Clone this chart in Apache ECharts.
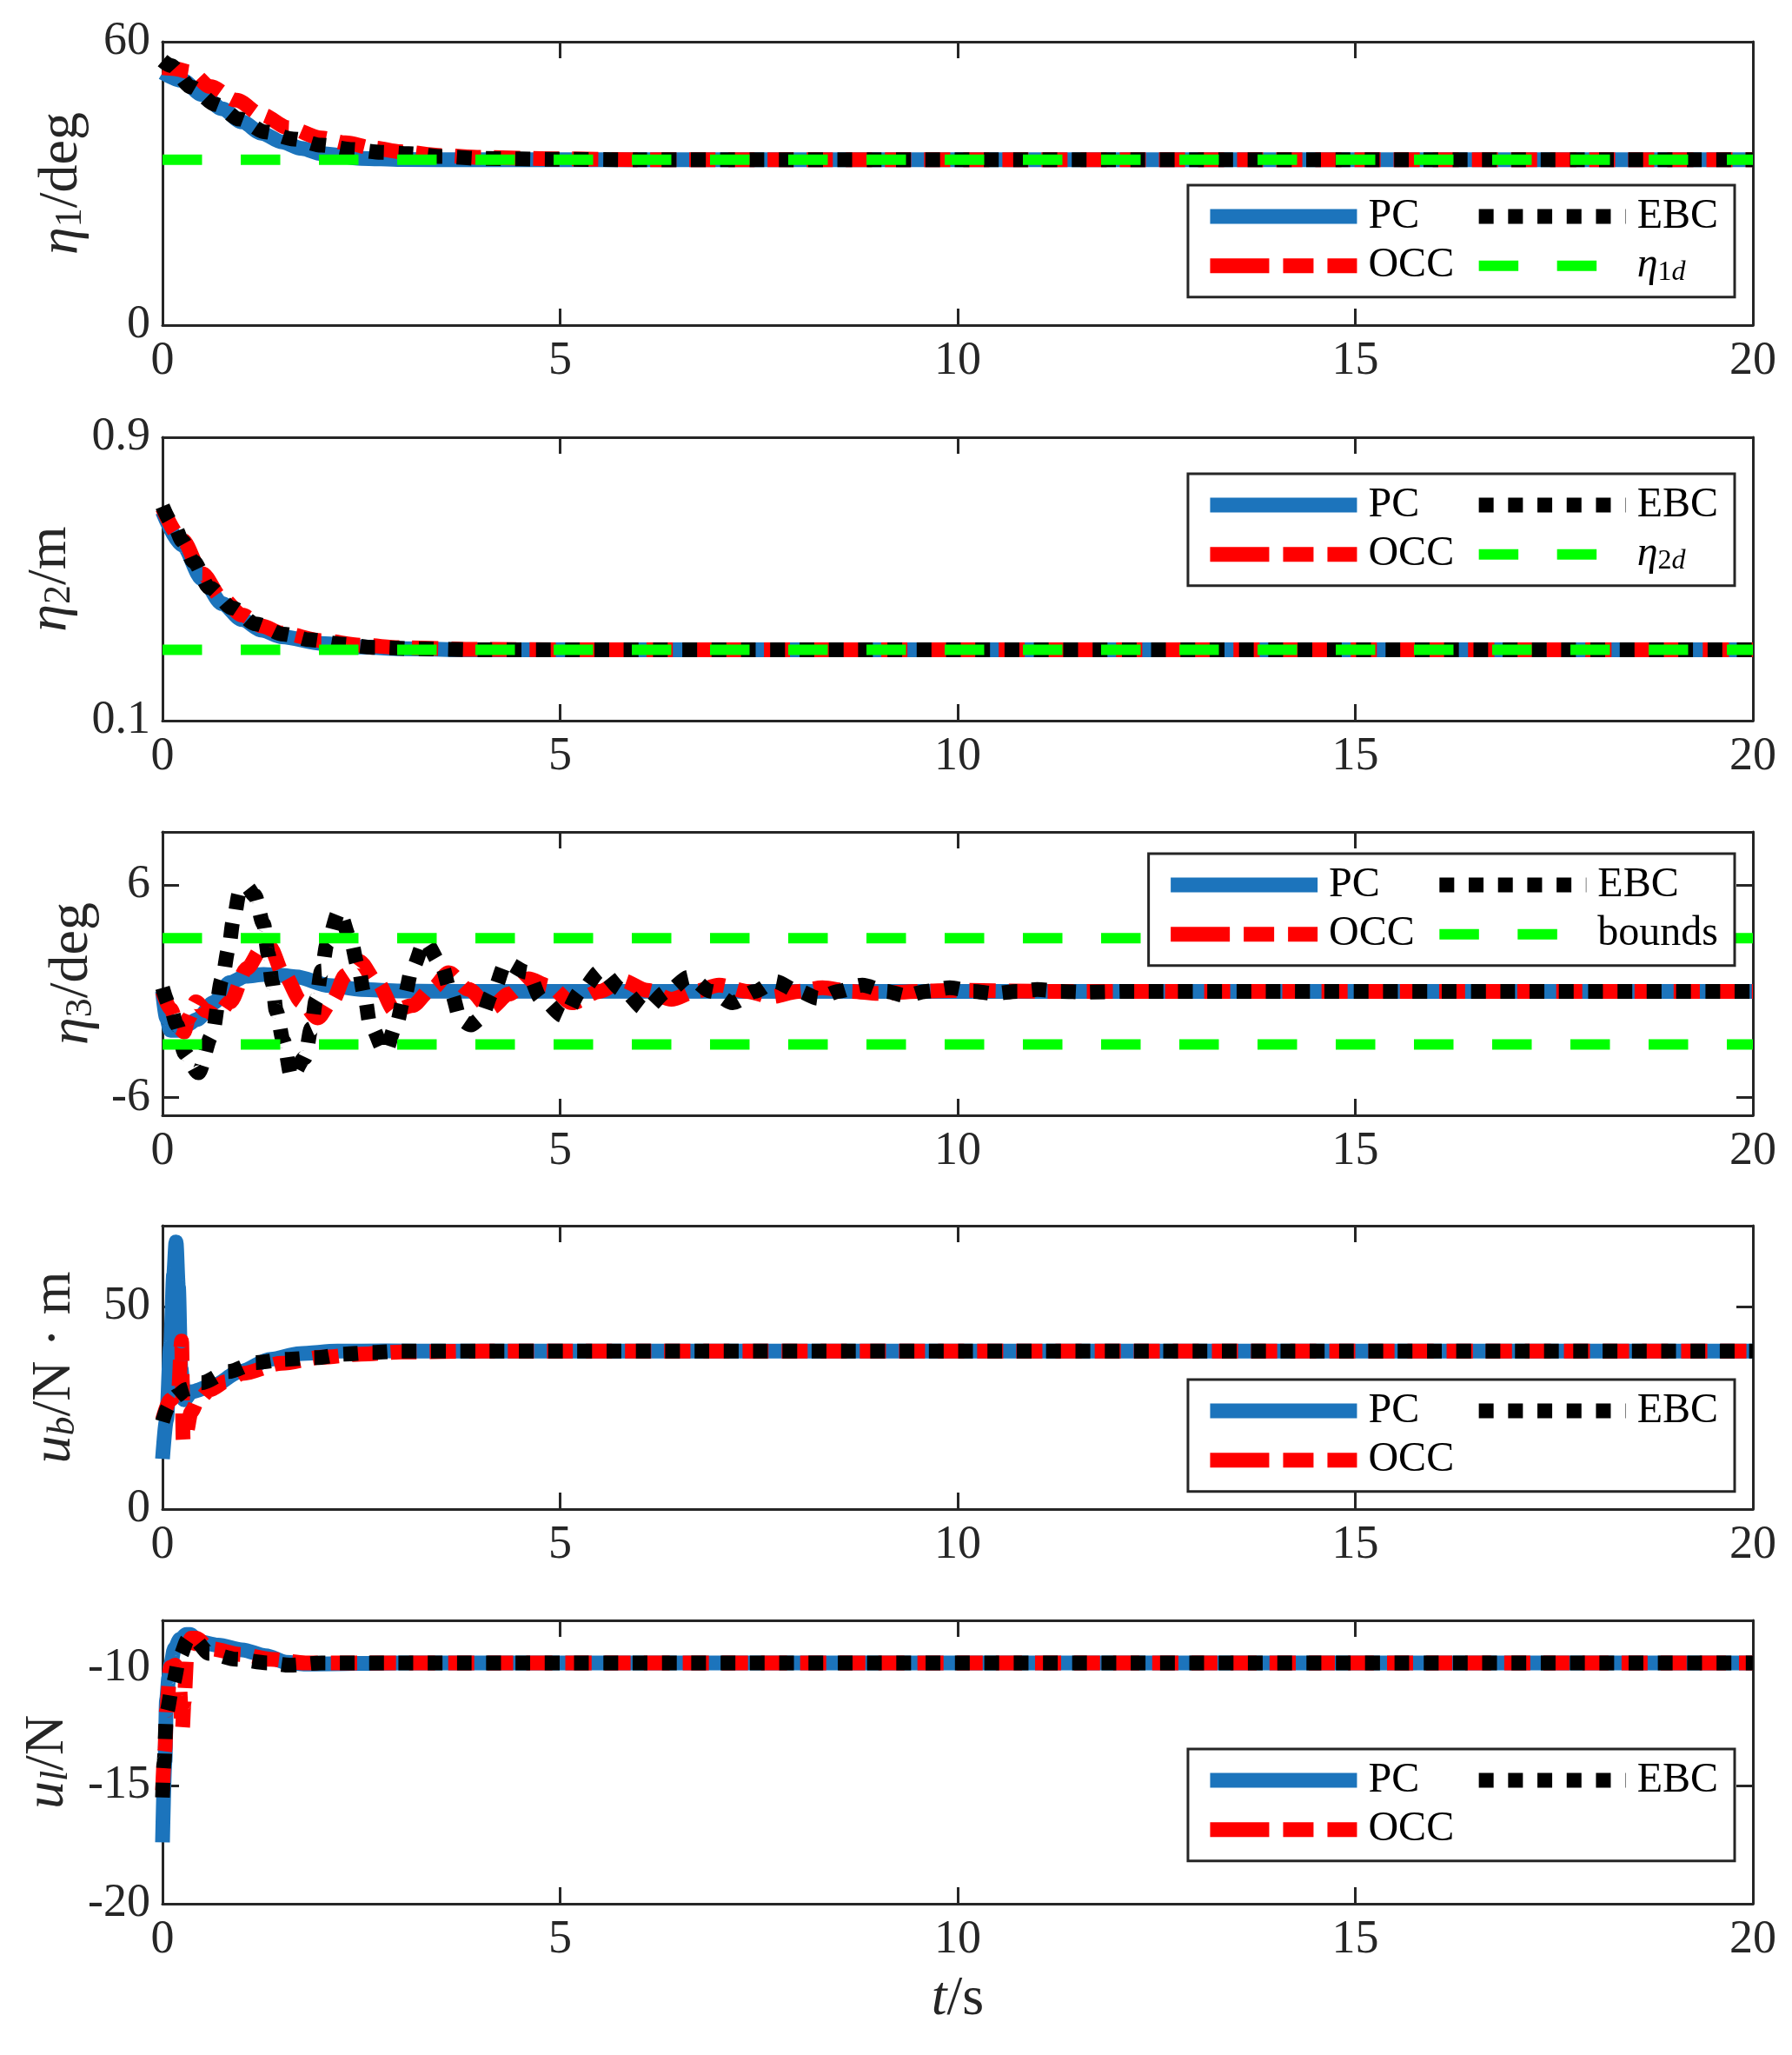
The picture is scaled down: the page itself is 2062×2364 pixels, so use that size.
<!DOCTYPE html>
<html><head><meta charset="utf-8">
<script src="https://cdn.jsdelivr.net/npm/echarts@6/dist/echarts.min.js"></script>
<style>html,body{margin:0;padding:0;background:#fff}#c{width:2062px;height:2364px}</style>
</head><body><div id="c"></div>
<script>
// ---------- data ----------
const xTicks = [0, 5, 10, 15, 20];
const yTicks1 = [0, 60];
const yTicks2 = [0.1, 0.9];
const yTicks3 = [-6, 6];
const yTicks4 = [0, 50];
const yTicks5 = [-20, -15, -10];

// panel 1: eta1 / deg
const t1PC  = [0, 0.25, 0.5, 0.75, 1, 1.25, 1.5, 1.75, 2, 2.5, 3, 4, 20];
const v1PC  = [53.5, 51.8, 48.8, 45.8, 43, 40.6, 38.8, 37.4, 36.3, 35.3, 35.05, 35, 35];
const t1OCC = [0, 0.15, 0.35, 0.6, 0.93, 1.25, 1.58, 2, 2.3, 2.65, 3, 3.5, 4, 5, 6, 20];
const v1OCC = [54.5, 54.3, 53.6, 50.5, 47.6, 44.5, 41.8, 39.6, 38.6, 37.5, 36.7, 35.9, 35.5, 35.2, 35, 35];
const t1EBC = [0, 0.1, 0.36, 0.67, 0.97, 1.29, 1.65, 2, 2.37, 2.75, 3.1, 3.5, 4, 5, 6, 20];
const v1EBC = [56, 55, 50.4, 46.7, 43.6, 40.9, 39.4, 38.1, 37.2, 36.6, 36.3, 35.7, 35.3, 35.1, 35, 35];
const t1Ref = [0, 20];
const v1Ref = [35, 35];

// panel 2: eta2 / m
const t2PC  = [0, 0.25, 0.5, 0.75, 1, 1.25, 1.5, 2, 2.5, 3, 4, 20];
const v2PC  = [0.69, 0.595, 0.5, 0.43, 0.385, 0.355, 0.337, 0.318, 0.308, 0.303, 0.3, 0.3];
const t2OCC = [0, 0.25, 0.5, 0.75, 1, 1.25, 1.5, 2, 2.5, 3, 4, 5, 20];
const v2OCC = [0.7, 0.61, 0.515, 0.445, 0.398, 0.367, 0.347, 0.326, 0.313, 0.306, 0.301, 0.3, 0.3];
const t2EBC = [0, 0.15, 0.25, 0.39, 0.59, 0.88, 1.17, 1.52, 1.86, 2.25, 2.64, 3.2, 4, 20];
const v2EBC = [0.705, 0.648, 0.607, 0.549, 0.475, 0.418, 0.373, 0.344, 0.328, 0.316, 0.307, 0.303, 0.3, 0.3];
const t2Ref = [0, 20];
const v2Ref = [0.3, 0.3];

// panel 3: eta3 / deg
const t3PC  = [0, 0.05, 0.1, 0.2, 0.3, 0.43, 0.64, 0.85, 1.05, 1.27, 1.5, 1.68, 2.1, 2.5, 3, 3.5, 20];
const v3PC  = [0, -1.5, -2.2, -2.2, -1.9, -1.6, -0.65, 0.5, 0.85, 0.95, 0.9, 0.82, 0.33, 0.1, 0.02, 0, 0];
const t3OCC = [0, 0.1, 0.2, 0.27, 0.33, 0.42, 0.55, 0.68, 0.85, 1.06, 1.25, 1.35, 1.52, 1.75, 1.95, 2.14, 2.3, 2.47, 2.7, 2.92, 3.14, 3.4, 3.6, 3.85, 4.12, 4.36, 4.6, 4.86, 5.15, 5.5, 5.78, 6.1, 6.4, 6.7, 7.0, 7.35, 7.65, 8.0, 8.3, 8.65, 9.0, 9.5, 10, 11, 20];
const v3OCC = [0, -1.0, -2.0, -2.3, -1.5, -0.6, -1.1, -1.4, -0.6, 1.3, 2.4, 2.5, 1.0, -0.6, -1.5, -0.5, 0.9, 1.7, 0.5, -1.1, -0.8, 0.2, 1.05, 0.1, -0.95, -0.15, 0.7, 0.3, -0.65, 0.0, 0.6, 0.05, -0.45, 0, 0.35, 0, -0.3, 0, 0.2, 0, -0.12, 0, 0.06, 0, 0];
const t3EBC = [0, 0.1, 0.18, 0.28, 0.45, 0.62, 0.75, 0.83, 0.89, 0.97, 1.06, 1.16, 1.27, 1.33, 1.38, 1.43, 1.52, 1.62, 1.79, 1.87, 1.93, 2.0, 2.07, 2.22, 2.36, 2.46, 2.54, 2.61, 2.8, 2.94, 3.04, 3.14, 3.3, 3.5, 3.63, 3.75, 3.88, 4.0, 4.15, 4.32, 4.59, 4.76, 5.05, 5.26, 5.51, 5.78, 6.07, 6.35, 6.62, 6.9, 7.17, 7.45, 7.7, 8.0, 8.25, 8.5, 8.8, 9.1, 9.35, 9.6, 9.9, 10.2, 10.45, 10.75, 11.0, 11.3, 11.6, 12.2, 20];
const v3EBC = [0.2, -0.9, -1.9, -3.5, -4.6, -2.5, 0.7, 2.4, 4.0, 5.6, 5.9, 5.4, 3.8, 2.1, 0.5, -1.1, -2.8, -4.8, -3.75, -2.1, -0.5, 1.15, 2.7, 4.5, 3.0, 1.4, -0.24, -1.87, -3.4, -1.87, -0.32, 1.3, 2.8, 1.56, -0.07, -1.62, -1.9, -1.54, -0.07, 1.6, 1.07, -0.4, -1.4, 0, 1.15, 0.09, -1.0, 0, 0.8, 0, -0.65, 0, 0.55, 0, -0.4, 0, 0.35, 0, -0.25, 0, 0.2, 0, -0.12, 0, 0.1, 0, -0.05, 0, 0];
const t3Bound = [0, 20];
const v3Upper = [3, 3];
const v3Lower = [-3, -3];

// panel 4: u_b / N·m
const t4PC  = [0, 0.05, 0.1, 0.14, 0.17, 0.2, 0.23, 0.27, 0.37, 0.63, 0.98, 1.36, 1.72, 2.2, 2.8, 3.5, 20];
const v4PC  = [12.4, 22, 40, 58, 66, 55, 35, 27, 29, 30.5, 34, 37, 38.4, 39, 39.1, 39, 39];
const t4OCC = [0, 0.1, 0.2, 0.24, 0.26, 0.3, 0.36, 0.45, 0.6, 0.8, 1.0, 1.5, 2.0, 2.5, 3.0, 4.0, 20];
const v4OCC = [22, 27, 29, 41.5, 17, 19, 24, 27, 29.5, 31.5, 33.5, 36, 37.5, 38.3, 38.8, 39, 39];
const t4EBC = [0, 0.08, 0.18, 0.3, 0.49, 0.83, 1.18, 1.56, 1.93, 2.29, 2.65, 3.0, 4, 20];
const v4EBC = [21.6, 25.5, 28, 29.6, 31.2, 34, 36.2, 37, 37.4, 38.3, 38.7, 39, 39, 39];

// panel 5: u_l / N
const t5PC  = [0, 0.03, 0.05, 0.08, 0.1, 0.15, 0.22, 0.3, 0.35, 0.45, 0.7, 1.0, 1.3, 1.56, 1.8, 3, 20];
const v5PC  = [-17.4, -14, -11.4, -10.4, -9.9, -9.2, -8.8, -8.6, -8.6, -8.9, -9.05, -9.25, -9.5, -9.78, -9.85, -9.8, -9.8];
const t5OCC = [0, 0.03, 0.05, 0.1, 0.16, 0.2, 0.25, 0.27, 0.31, 0.36, 0.42, 0.6, 1.0, 1.36, 1.8, 2.5, 20];
const v5OCC = [-15.2, -13.5, -11.8, -10.0, -9.9, -10.1, -12.6, -11.5, -9.3, -8.75, -8.75, -9.2, -9.45, -9.65, -9.8, -9.8, -9.8];
const t5EBC = [0, 0.02, 0.05, 0.13, 0.22, 0.32, 0.38, 0.59, 0.93, 1.32, 1.6, 2, 20];
const v5EBC = [-15.5, -14, -11.9, -10.7, -9.5, -8.8, -8.75, -9.4, -9.65, -9.8, -9.9, -9.8, -9.8];

// ---------- styles ----------
const FONT = "'Liberation Serif', 'Times New Roman', serif";
const AX = '#262626';
const C_PC = '#1c74bc', C_OCC = '#ff0000', C_EBC = '#000000', C_REF = '#00ff00';
const LW = 17, LW_REF = 12;
const DASH_OCC = [30, 15], DASH_EBC = [17, 16.7], DASH_REF = [45.5, 44.5];
const tops = [48, 503, 957, 1410, 1864];
const H = 326;

const pairs = (t, v) => t.map((x, i) => [x, v[i]]);

const nameRich = {
  i: {fontFamily: FONT, fontSize: 64, fontStyle: 'italic', lineHeight: 64, color: AX},
  n: {fontFamily: FONT, fontSize: 64, lineHeight: 64, color: AX},
  s: {fontFamily: FONT, fontSize: 44, lineHeight: 26, verticalAlign: 'bottom', color: AX},
  si: {fontFamily: FONT, fontSize: 44, fontStyle: 'italic', lineHeight: 26, verticalAlign: 'bottom', color: AX}
};

const panels = [
  {min: 0, max: 60, ticks: yTicks1, name: '{i|η}{s|1}{n|/deg}', gap: 84,
   series: [['PC', t1PC, v1PC], ['OCC', t1OCC, v1OCC], ['EBC', t1EBC, v1EBC], ['η1d', t1Ref, v1Ref]],
   legendTop: 213, legend: ['PC', 'OCC', 'EBC', 'η1d']},
  {min: 0.1, max: 0.9, ticks: yTicks2, name: '{i|η}{s|2}{n|/m}', gap: 97,
   series: [['PC', t2PC, v2PC], ['OCC', t2OCC, v2OCC], ['EBC', t2EBC, v2EBC], ['η2d', t2Ref, v2Ref]],
   legendTop: 545, legend: ['PC', 'OCC', 'EBC', 'η2d']},
  {min: -7, max: 9, ticks: yTicks3, name: '{i|η}{s|3}{n|/deg}', gap: 72,
   series: [['PC', t3PC, v3PC], ['OCC', t3OCC, v3OCC], ['EBC', t3EBC, v3EBC], ['bounds', t3Bound, v3Upper], ['bounds', t3Bound, v3Lower]],
   legendTop: 982, legend: ['PC', 'OCC', 'EBC', 'bounds']},
  {min: 0, max: 70, ticks: yTicks4, name: '{i|u}{si|b}{n|/N · m}', gap: 92,
   series: [['PC', t4PC, v4PC], ['OCC', t4OCC, v4OCC], ['EBC', t4EBC, v4EBC]],
   legendTop: 1587, legend: ['PC', 'OCC', 'EBC']},
  {min: -20, max: -8, ticks: yTicks5, name: '{i|u}{si|l}{n|/N}', gap: 100,
   series: [['PC', t5PC, v5PC], ['OCC', t5OCC, v5OCC], ['EBC', t5EBC, v5EBC]],
   legendTop: 2012, legend: ['PC', 'OCC', 'EBC']}
];

function styleFor(name) {
  if (name === 'PC') return {color: C_PC, width: LW, type: 'solid'};
  if (name === 'OCC') return {color: C_OCC, width: LW, type: DASH_OCC};
  if (name === 'EBC') return {color: C_EBC, width: LW, type: DASH_EBC};
  return {color: C_REF, width: LW_REF, type: DASH_REF};
}
const hiddenSymbol = {opacity: 0, borderWidth: 0};
function legendItem(name) {
  let ls;
  if (name === 'PC') ls = {width: LW, type: 'solid'};
  else if (name === 'OCC') ls = {width: LW, type: [68, 16, 35, 16, 35, 40]};
  else if (name === 'EBC') ls = {width: LW, type: DASH_EBC};
  else ls = {width: LW_REF, type: DASH_REF};
  return {name, lineStyle: ls, itemStyle: hiddenSymbol};
}
function legendFmt(name) {
  const m = /^η(\d)d$/.exec(name);
  if (m) return '{g| }{gi|η}{gs|' + m[1] + '}{gsi|d}';
  if (name === 'PC' || name === 'OCC') return '{g| }{a|' + name + '}';
  return '{g| }{b|' + name + '}';
}

const grid = [], xAxis = [], yAxis = [], series = [], legend = [];
const axisLine = {show: true, onZero: false, lineStyle: {color: AX, width: 3}};
const tickStyle = {color: AX, width: 3};

panels.forEach((p, i) => {
  grid.push({left: 187, right: 45, top: tops[i], height: H});
  const xb = {
    gridIndex: i, type: 'value', min: 0, max: 20, interval: 5, position: 'bottom',
    axisLine, splitLine: {show: false},
    axisTick: {inside: true, length: 19, lineStyle: tickStyle},
    axisLabel: {fontFamily: FONT, fontSize: 54, color: AX, margin: 15, customValues: xTicks}
  };
  if (i === panels.length - 1) {
    xb.name = '{i|t}{n|/s}';
    xb.nameLocation = 'middle';
    xb.nameGap = 78;
    xb.nameTextStyle = {fontFamily: FONT, fontSize: 64, color: AX, rich: nameRich};
  }
  xAxis.push(xb);
  xAxis.push({
    gridIndex: i, type: 'value', min: 0, max: 20, interval: 5, position: 'top',
    axisLine, splitLine: {show: false},
    axisTick: {inside: true, length: 19, lineStyle: tickStyle},
    axisLabel: {show: false}
  });
  yAxis.push({
    gridIndex: i, type: 'value', min: p.min, max: p.max, position: 'left',
    axisLine, splitLine: {show: false},
    axisTick: {inside: true, length: 19, lineStyle: tickStyle, customValues: p.ticks},
    axisLabel: {fontFamily: FONT, fontSize: 54, color: AX, margin: 14, customValues: p.ticks},
    name: p.name, nameLocation: 'middle', nameGap: p.gap,
    nameTextStyle: {fontFamily: FONT, fontSize: 64, color: AX, rich: nameRich}
  });
  yAxis.push({
    gridIndex: i, type: 'value', min: p.min, max: p.max, position: 'right',
    axisLine, splitLine: {show: false},
    axisTick: {inside: true, length: 19, lineStyle: tickStyle, customValues: p.ticks},
    axisLabel: {show: false}
  });
  p.series.forEach(([name, t, v]) => {
    const ls = styleFor(name);
    series.push({
      type: 'line', name, xAxisIndex: 2 * i, yAxisIndex: 2 * i,
      data: pairs(t, v), symbol: 'none', showSymbol: false,
      smooth: name === 'PC' || name === 'OCC' || name === 'EBC' ? 0.3 : false,
      smoothMonotone: 'x',
      lineStyle: {color: ls.color, width: ls.width, type: ls.type, cap: 'butt', join: 'round'},
      itemStyle: {color: ls.color},
      emphasis: {disabled: true}, silent: true, animation: false
    });
  });
  legend.push({
    orient: 'vertical', right: 66, top: p.legendTop, height: 110,
    itemWidth: 169, itemHeight: 17, itemGap: 8.7,
    padding: [12, 19, 12, 17],
    borderColor: AX, borderWidth: 3, backgroundColor: '#ffffff',
    selectedMode: false,
    data: p.legend.map(legendItem),
    formatter: legendFmt,
    textStyle: {
      fontFamily: FONT, fontSize: 48, color: '#000', lineHeight: 48,
      rich: {
        g: {width: 8, fontSize: 48, lineHeight: 48},
        a: {width: 110, fontFamily: FONT, fontSize: 48, lineHeight: 48, color: '#000'},
        b: {fontFamily: FONT, fontSize: 48, lineHeight: 48, color: '#000'},
        gi: {fontFamily: FONT, fontSize: 48, fontStyle: 'italic', lineHeight: 48, color: '#000'},
        gs: {fontFamily: FONT, fontSize: 32, lineHeight: 18, verticalAlign: 'bottom', color: '#000'},
        gsi: {fontFamily: FONT, fontSize: 32, fontStyle: 'italic', lineHeight: 18, verticalAlign: 'bottom', color: '#000'}
      }
    }
  });
});

const chart = echarts.init(document.getElementById('c'), null, {renderer: 'canvas'});
chart.setOption({
  backgroundColor: '#ffffff',
  animation: false,
  grid, xAxis, yAxis, series, legend
});
</script>
</body></html>
